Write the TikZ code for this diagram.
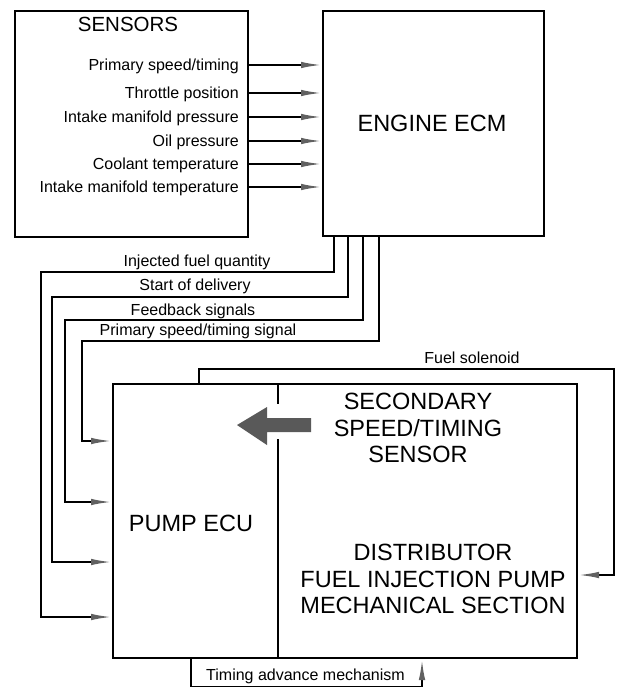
\documentclass[tikz,border=0pt]{standalone}
\usepackage{fontspec}
\setmainfont{Liberation Sans}
\usetikzlibrary{arrows.meta}
\begin{document}
\begin{tikzpicture}[x=1pt,y=-1pt,
  box/.style={draw, line width=2pt, inner sep=0pt, anchor=north west},
  lab/.style={font=\fontsize{16}{19}\selectfont, inner sep=0pt, text height=11.5pt, text depth=0pt},
  big/.style={font=\fontsize{23.5}{26.5}\selectfont, inner sep=0pt, align=center},
  sig/.style={line width=2pt, -{Latex[length=21pt,width=6.5pt,color=black!62]}}]
\useasboundingbox (0,0) rectangle (616,687);
\fill[white] (0,0) rectangle (616,687);
% boxes
\node[box, minimum width=233pt, minimum height=226pt] (sensors) at (14,10) {};
\node[box, minimum width=221pt, minimum height=225pt] (ecm) at (322,10) {};
\node[box, minimum width=165pt, minimum height=274pt] (pumpecu) at (112,383) {};
\node[box, minimum width=299pt, minimum height=274pt] (mech) at (277,383) {};
% titles
\node[font=\fontsize{20.5}{24}\selectfont, inner sep=0pt] (sensT) at (128,24) {SENSORS};
\node[big] (ecmT) at (432,123) {ENGINE ECM};
\node[big] (pumpT) at (191,523) {PUMP ECU};
\node[big] (secT) at (418,428) {SECONDARY\\SPEED/TIMING\\SENSOR};
\node[big] (distT) at (433,579) {DISTRIBUTOR\\FUEL INJECTION PUMP\\MECHANICAL SECTION};
% sensor signals
\foreach \y/\t/\n in {65/{Primary speed/timing}/s1, 93/{Throttle position}/s2, 117/{Intake manifold pressure}/s3, 141/{Oil pressure}/s4, 164/{Coolant temperature}/s5, 187/{Intake manifold temperature}/s6}{
  \node[lab, anchor=east] (\n) at (239,\y) {\t};
  \draw[sig] (\n.east -| sensors.east) -- (\n.east -| ecm.west);
}
% ECM to pump ECU
\foreach \x/\h/\l/\a in {334/272/41/617, 348/297/52/562, 363/320/65/502, 379/341/82/441}{
  \draw[sig] (ecm.south -| \x,0) |- (\l,\h) |- (pumpecu.west |- 0,\a);
}
\node[lab] (l1) at (197,261) {Injected fuel quantity};
\node[lab] (l2) at (195,285) {Start of delivery};
\node[lab] (l3) at (193,310) {Feedback signals};
\node[lab] (l4) at (198,330) {Primary speed/timing signal};
% fuel solenoid
\draw[sig] (pumpecu.north -| 199,0) |- (614,369) |- (mech.east |- 0,575);
\node[lab] (fs) at (472,358) {Fuel solenoid};
% timing advance
\draw[sig] (pumpecu.south -| 191,0) |- (306,687) -| (mech.south -| 422,0);
\node[lab] (ta) at (305.5,675) {Timing advance mechanism};
% secondary sensor arrow
\fill[white] (271,404) rectangle (283,439);
\fill[black!65] (237,425) -- (267,407) -- (267,418) -- (311,418) -- (311,432) -- (267,432) -- (267,445) -- cycle;
\end{tikzpicture}
\end{document}
